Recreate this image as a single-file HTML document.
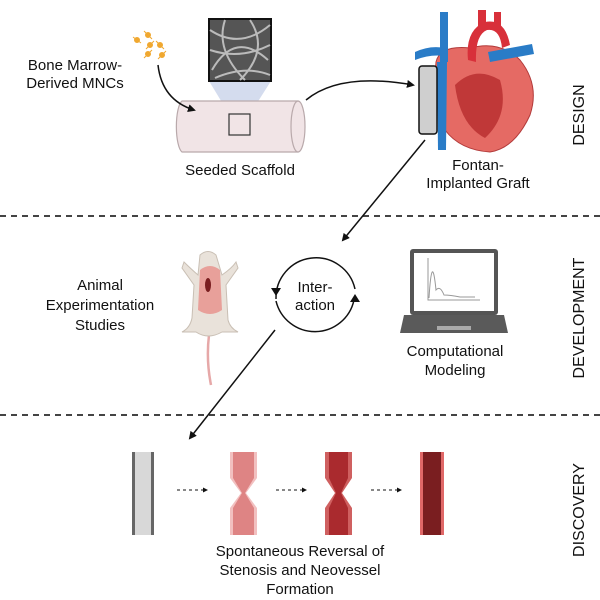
<!DOCTYPE html>
<html><head><meta charset="utf-8"><style>
html,body{margin:0;padding:0;background:#fff}
svg{display:block}
text{font-family:"Liberation Sans",sans-serif;fill:#111}
</style></head><body>
<svg width="600" height="600" viewBox="0 0 600 600">
<defs>
<marker id="ah" markerWidth="8" markerHeight="8" refX="6" refY="4" orient="auto" markerUnits="userSpaceOnUse"><path d="M0,0 L8,4 L0,8 Z" fill="#111"/></marker>
<marker id="as" markerWidth="5" markerHeight="5" refX="4" refY="2.5" orient="auto" markerUnits="userSpaceOnUse"><path d="M0,0 L5,2.5 L0,5 Z" fill="#111"/></marker>
</defs>
<line x1="0" y1="216" x2="600" y2="216" stroke="#444" stroke-width="2" stroke-dasharray="6,5"/>
<line x1="0" y1="415" x2="600" y2="415" stroke="#444" stroke-width="2" stroke-dasharray="6,5"/>
<g font-size="16" text-anchor="middle">
<text transform="translate(584,115) rotate(-90)">DESIGN</text>
<text transform="translate(584,318) rotate(-90)">DEVELOPMENT</text>
<text transform="translate(584,510) rotate(-90)">DISCOVERY</text>
</g>
<g font-size="15" text-anchor="middle">
<text x="75" y="70">Bone Marrow-</text>
<text x="75" y="88">Derived MNCs</text>
<text x="240" y="175">Seeded Scaffold</text>
<text x="478" y="170">Fontan-</text>
<text x="478" y="188">Implanted Graft</text>
<text x="100" y="290">Animal</text>
<text x="100" y="310">Experimentation</text>
<text x="100" y="330">Studies</text>
<text x="315" y="292">Inter-</text>
<text x="315" y="310">action</text>
<text x="455" y="356">Computational</text>
<text x="455" y="375">Modeling</text>
<text x="300" y="556">Spontaneous Reversal of</text>
<text x="300" y="575">Stenosis and Neovessel</text>
<text x="300" y="594">Formation</text>
</g>
<!-- cells -->
<g fill="#f0a830" stroke="#f0a830" stroke-width="1">
<circle cx="137" cy="40" r="2.5"/><circle cx="148" cy="35" r="2.5"/><circle cx="150" cy="45" r="2.5"/><circle cx="160" cy="45" r="2.5"/><circle cx="148" cy="54" r="2.5"/><circle cx="162" cy="55" r="2.5"/>
<path d="M133,37 L141,43 M144,31 L152,39 M146,49 L154,41 M156,41 L164,49 M144,58 L152,50 M158,59 L166,51" fill="none"/>
</g>
<!-- scaffold -->
<polygon points="209,81 271,81 250,114 229,114" fill="#c9d3ea" opacity="0.8"/>
<rect x="209" y="19" width="62" height="62" fill="#555" stroke="#111" stroke-width="2"/>
<g stroke="#bbb" stroke-width="2" fill="none">
<path d="M210,30 Q240,50 270,25"/><path d="M212,70 Q235,30 268,60"/><path d="M225,20 Q215,50 245,80"/><path d="M250,20 Q270,50 240,80"/><path d="M210,50 Q240,60 270,45"/><path d="M215,78 Q245,65 270,75"/>
</g>
<path d="M182,101 L298,101 A7,26 0 0 1 298,152 L182,152 A7,26 0 0 1 182,101 Z" fill="#f1e4e6" stroke="#b9a9ab" stroke-width="1.2"/>
<ellipse cx="298" cy="126.5" rx="7" ry="25.5" fill="#f1e4e6" stroke="#b9a9ab" stroke-width="1.2"/>
<rect x="229" y="114" width="21" height="21" fill="none" stroke="#333" stroke-width="1.2"/>
<path d="M158,65 Q162,100 194,110" fill="none" stroke="#111" stroke-width="1.5" marker-end="url(#ah)"/>
<path d="M306,100 Q340,72 413,85" fill="none" stroke="#111" stroke-width="1.5" marker-end="url(#ah)"/>
<!-- heart -->
<path d="M436,62 Q440,45 470,48 Q500,40 520,60 Q540,85 530,115 Q515,148 490,152 Q460,150 445,130 Q432,100 436,62 Z" fill="#e56a64" stroke="#b23a3a"/>
<path d="M455,85 Q475,65 500,80 Q510,115 485,138 Q460,125 455,85Z" fill="#c03838"/>
<path d="M468,60 Q465,30 485,22 Q505,18 510,45 L502,48 Q500,28 487,30 Q475,35 476,62Z" fill="#d8303a"/>
<path d="M478,10 L486,10 L486,30 L478,30Z M494,12 L501,12 L501,28 L494,28Z" fill="#d8303a"/>
<path d="M440,12 L448,12 L448,62 L440,62Z M415,52 Q430,45 445,48 L445,56 Q430,54 415,60Z M488,52 L532,44 L534,54 L490,62Z" fill="#2a7cc7"/>
<path d="M437,62 L447,62 L446,150 L438,150Z" fill="#2a7cc7"/>
<rect x="419" y="66" width="18" height="68" rx="3" fill="#cfcfcf" stroke="#111" stroke-width="1.5"/>
<path d="M425,140 L343,240" stroke="#111" stroke-width="1.5" marker-end="url(#ah)"/>
<!-- interaction circle -->
<path d="M276,299 A40,40 0 0 1 355,289" fill="none" stroke="#111" stroke-width="1.5"/>
<path d="M354,300 A40,40 0 0 1 276,301" fill="none" stroke="#111" stroke-width="1.5"/>
<path d="M271,288 L281,288 L276,296Z" fill="#111"/>
<path d="M350,302 L360,302 L355,294Z" fill="#111"/>
<path d="M275,330 L190,438" stroke="#111" stroke-width="1.5" marker-end="url(#ah)"/>
<!-- mouse -->
<path d="M209,335 Q206,360 211,385" stroke="#e6a8a8" stroke-width="2.5" fill="none"/>
<path d="M200,255 Q208,248 216,255 L222,275 Q232,268 236,262 L238,268 L226,285 L228,320 Q230,328 238,332 L222,332 Q208,340 196,332 L182,332 Q190,328 192,318 L194,285 L182,268 L184,262 Q190,268 198,275Z" fill="#e9e2da" stroke="#c9bfb4"/>
<path d="M200,270 Q210,262 220,270 L222,310 Q210,318 198,310Z" fill="#e8a09a"/>
<ellipse cx="208" cy="285" rx="3" ry="7" fill="#7a1e20"/>
<!-- laptop -->
<rect x="410" y="249" width="88" height="66" rx="3" fill="#555"/>
<rect x="414" y="253" width="80" height="58" fill="#fff"/>
<path d="M428,258 L428,300 L480,300" stroke="#999" fill="none"/>
<path d="M429,298 Q432,250 436,290 Q440,285 444,295 Q450,295 460,297 L475,297" stroke="#999" fill="none"/>
<path d="M404,315 L504,315 L508,333 L400,333Z" fill="#5a5a5a"/>
<rect x="437" y="326" width="34" height="4" fill="#aaa"/>
<!-- vessels -->
<rect x="132" y="452" width="22" height="83" fill="#d8d8d8"/>
<rect x="132" y="452" width="3" height="83" fill="#666"/><rect x="151" y="452" width="3" height="83" fill="#666"/>
<path d="M230,452 L257,452 L257,478 L246,493 L257,508 L257,535 L230,535 L230,508 L241,493 L230,478Z" fill="#f2c0c0"/>
<path d="M233,452 L254,452 L254,478 L245,493 L254,508 L254,535 L233,535 L233,508 L242,493 L233,478Z" fill="#de8484"/>
<path d="M325,452 L352,452 L352,478 L342,493 L352,508 L352,535 L325,535 L325,508 L335,493 L325,478Z" fill="#cf6060"/>
<path d="M329,452 L348,452 L348,478 L341,493 L348,508 L348,535 L329,535 L329,508 L336,493 L329,478Z" fill="#aa2a2e"/>
<rect x="420" y="452" width="24" height="83" fill="#e06868"/>
<rect x="423" y="452" width="18" height="83" fill="#7a1e20"/>
<g stroke="#111" stroke-width="1" stroke-dasharray="3,3" fill="none">
<path d="M177,490 L207,490" marker-end="url(#as)"/>
<path d="M276,490 L306,490" marker-end="url(#as)"/>
<path d="M371,490 L401,490" marker-end="url(#as)"/>
</g>
</svg>
</body></html>
